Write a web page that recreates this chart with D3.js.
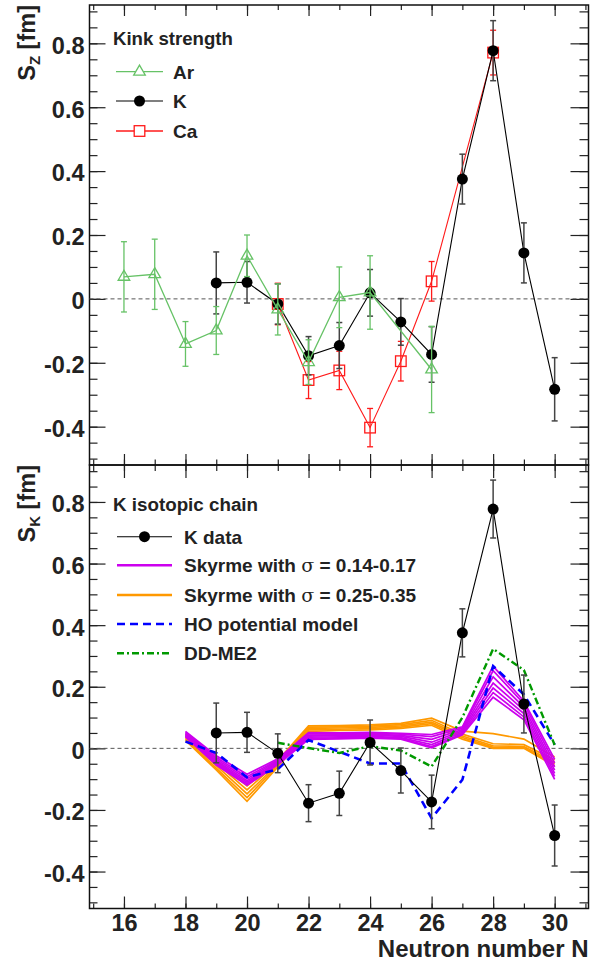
<!DOCTYPE html>
<html><head><meta charset="utf-8">
<script src="https://cdn.jsdelivr.net/npm/d3@7"></script>
<style>
body{margin:0;background:#fff}
text{font-family:"Liberation Sans",Arial,Helvetica,sans-serif;font-weight:bold;fill:#222}
</style>
</head><body>
<svg id="c" width="606" height="966"></svg>
<script>
// ---------- data ----------
const xTicks = [16,18,20,22,24,26,28,30];
const yTicks = [-0.4,-0.2,0,0.2,0.4,0.6,0.8];

const nK   = [19,20,21,22,23,24,25,26,27,28,29,30];
const kVal = [0.050,0.052,-0.016,-0.178,-0.146,0.019,-0.072,-0.174,0.375,0.777,0.144,-0.283];
const kErr = [0.097,0.065,0.063,0.060,0.072,0.073,0.073,0.087,0.078,0.094,0.094,0.099];

const nAr   = [16,17,18,19,20,21,22,23,24,26];
const arVal = [0.069,0.077,-0.141,-0.099,0.135,-0.033,-0.198,0.005,0.020,-0.221];
const arErr = [0.110,0.110,0.070,0.075,0.065,0.080,0.070,0.095,0.115,0.135];

const nCa   = [21,22,23,24,25,26,28];
const caVal = [-0.016,-0.254,-0.224,-0.403,-0.195,0.055,0.771];
const caErr = [0.065,0.058,0.060,0.060,0.062,0.062,0.070];

const nTh = [18,19,20,21,22,23,24,25,26,27,28,29,30];
const skyrmeLow = [
 [0.055,-0.024,-0.084,-0.034,0.051,0.050,0.052,0.049,0.045,0.070,0.267,0.153,-0.036],
 [0.052,-0.030,-0.092,-0.038,0.047,0.047,0.049,0.046,0.038,0.066,0.252,0.145,-0.048],
 [0.049,-0.035,-0.099,-0.041,0.043,0.044,0.046,0.042,0.029,0.061,0.232,0.134,-0.060],
 [0.046,-0.040,-0.105,-0.045,0.040,0.041,0.043,0.039,0.020,0.057,0.212,0.124,-0.071],
 [0.043,-0.045,-0.110,-0.048,0.036,0.037,0.039,0.035,0.012,0.052,0.196,0.113,-0.081],
 [0.040,-0.050,-0.115,-0.050,0.032,0.034,0.036,0.032,0.006,0.047,0.181,0.102,-0.091],
 [0.037,-0.054,-0.120,-0.053,0.029,0.031,0.033,0.030,0.002,0.044,0.166,0.093,-0.101]
];
const skyrmeHigh = [
 [0.045,-0.040,-0.122,-0.040,0.073,0.074,0.076,0.081,0.098,0.056,0.048,0.030,-0.028],
 [0.040,-0.048,-0.135,-0.045,0.069,0.070,0.072,0.077,0.091,0.046,0.015,0.012,-0.038],
 [0.035,-0.056,-0.148,-0.050,0.065,0.066,0.068,0.073,0.085,0.040,0.008,0.006,-0.045],
 [0.030,-0.064,-0.160,-0.055,0.060,0.062,0.064,0.069,0.080,0.035,0.003,0.002,-0.051],
 [0.026,-0.070,-0.172,-0.060,0.055,0.058,0.060,0.065,0.075,0.030,0.000,0.000,-0.057]
];
const hoVal = [0.022,-0.015,-0.094,-0.068,0.027,-0.011,-0.049,-0.049,-0.227,-0.102,0.267,0.175,0.012];
const nDD   = [21,22,23,24,25,26,27,28,29,30];
const ddVal = [0.018,0.001,-0.015,0.007,-0.007,-0.059,0.100,0.323,0.254,0.011];

// ---------- layout ----------
const svg = d3.select("#c");
const L = 89.5, R = 588.5;
const x = d3.scaleLinear().domain([14.88, 31.1]).range([L, R]);
const yTop = d3.scaleLinear().domain([-0.52, 0.92]).range([465, 5]);
const yBot = d3.scaleLinear().domain([-0.52, 0.92]).range([908.5, 465]);

const C = {ar:"#66c266", k:"#000", ca:"#ff1a1a", kErr:"#444",
           low:"#cc00ee", high:"#ff9900", ho:"#0000ff", dd:"#009900"};

const fmt = d => d === 0 ? "0" : String(+d.toFixed(1));
const minorY = d3.range(-0.5, 0.9001, 0.05).map(v => +v.toFixed(2));
const minorX = d3.range(15, 31.01, 1);

function frame(y, top, bottom, opts) {
  const g = svg.append("g");
  const ga = g.append("g").attr("transform", `translate(${L},0)`);
  ga.call(d3.axisLeft(y).tickValues(minorY).tickSizeInner(-8).tickSizeOuter(0).tickFormat(""));
  const gal = ga.append("g").call(d3.axisLeft(y).tickValues(yTicks).tickSizeInner(-16).tickSizeOuter(0).tickPadding(5).tickFormat(fmt));
  const gr = g.append("g").attr("transform", `translate(${R},0)`);
  gr.call(d3.axisRight(y).tickValues(minorY).tickSizeInner(-9).tickSizeOuter(0).tickFormat(""));
  gr.append("g").call(d3.axisRight(y).tickValues(yTicks).tickSizeInner(-18).tickSizeOuter(0).tickFormat(""));
  const gt = g.append("g").attr("transform", `translate(0,${top})`);
  gt.call(d3.axisTop(x).tickValues(minorX).tickSizeInner(-opts.tMin).tickSizeOuter(0).tickFormat(""));
  gt.append("g").call(d3.axisTop(x).tickValues(xTicks).tickSizeInner(-opts.tMaj).tickSizeOuter(0).tickFormat(""));
  const gb = g.append("g").attr("transform", `translate(0,${bottom})`);
  gb.call(d3.axisBottom(x).tickValues(minorX).tickSizeInner(-opts.bMin).tickSizeOuter(0).tickFormat(""));
  gb.append("g").call(d3.axisBottom(x).tickValues(xTicks).tickSizeInner(-opts.bMaj).tickSizeOuter(0).tickPadding(6)
      .tickFormat(opts.xLabels ? d => String(d) : ""));
  g.selectAll(".domain").remove();
  g.selectAll(".tick line").attr("stroke", "#222").attr("stroke-width", 1.2);
  g.selectAll(".tick text").style("font-size", "23.5px").style("fill", "#222")
   .style("font-family", '"Liberation Sans",Arial,sans-serif').style("font-weight", "bold");
  ga.selectAll(".tick text").attr("dy", "0.42em");
  gb.selectAll(".tick text").attr("dy", "0.72em");
  g.append("rect").attr("x", L).attr("y", top).attr("width", R - L).attr("height", bottom - top)
   .attr("fill", "none").attr("stroke", "#111").attr("stroke-width", 1.5);
  g.append("line").attr("x1", L).attr("x2", R).attr("y1", y(0)).attr("y2", y(0))
   .attr("stroke", "#555").attr("stroke-width", 1).attr("stroke-dasharray", "4,3");
  return g;
}

function errBars(g, ns, vs, es, y, color, w) {
  const eg = g.append("g").attr("stroke", color).attr("stroke-width", w).attr("fill", "none");
  ns.forEach((n, i) => {
    const xx = x(n), y1 = y(vs[i] - es[i]), y2 = y(vs[i] + es[i]);
    eg.append("line").attr("x1", xx).attr("x2", xx).attr("y1", y1).attr("y2", y2);
    eg.append("line").attr("x1", xx - 3).attr("x2", xx + 3).attr("y1", y1).attr("y2", y1);
    eg.append("line").attr("x1", xx - 3).attr("x2", xx + 3).attr("y1", y2).attr("y2", y2);
  });
}
function polyline(g, ns, vs, y, color, w, dash) {
  const p = g.append("path").datum(ns.map((n, i) => [n, vs[i]]))
    .attr("d", d3.line().x(d => x(d[0])).y(d => y(d[1])))
    .attr("fill", "none").attr("stroke", color).attr("stroke-width", w)
    .attr("stroke-linejoin", "miter");
  if (dash) p.attr("stroke-dasharray", dash);
  return p;
}
const triPath = "M0,-6.6L5.8,3.4L-5.8,3.4Z";
function circles(g, ns, vs, y) {
  g.selectAll(null).data(ns.map((n, i) => [n, vs[i]])).enter().append("circle")
   .attr("cx", d => x(d[0])).attr("cy", d => y(d[1])).attr("r", 5.5).attr("fill", "#000");
}
function triangles(g, ns, vs, y) {
  g.selectAll(null).data(ns.map((n, i) => [n, vs[i]])).enter().append("path")
   .attr("d", triPath).attr("transform", d => `translate(${x(d[0])},${y(d[1])})`)
   .attr("fill", "none").attr("stroke", C.ar).attr("stroke-width", 1.3);
}
function squares(g, ns, vs, y) {
  g.selectAll(null).data(ns.map((n, i) => [n, vs[i]])).enter().append("rect")
   .attr("x", d => x(d[0]) - 5.3).attr("y", d => y(d[1]) - 5.3).attr("width", 10.6).attr("height", 10.6)
   .attr("fill", "none").attr("stroke", C.ca).attr("stroke-width", 1.3);
}

// ---------- top panel ----------
frame(yTop, 5, 465, {tMaj:11, tMin:5, bMaj:11, bMin:5.5, xLabels:false});
const pTop = svg.append("g");
polyline(pTop, nCa, caVal, yTop, C.ca, 1.1);
errBars(pTop, nCa, caVal, caErr, yTop, C.ca, 1.3);
squares(pTop, nCa, caVal, yTop);
polyline(pTop, nK, kVal, yTop, C.k, 1.1);
errBars(pTop, nK, kVal, kErr, yTop, C.kErr, 1.5);
circles(pTop, nK, kVal, yTop);
polyline(pTop, nAr, arVal, yTop, C.ar, 1.3);
errBars(pTop, nAr, arVal, arErr, yTop, C.ar, 1.3);
triangles(pTop, nAr, arVal, yTop);

// ---------- bottom panel ----------
frame(yBot, 465, 908.5, {tMaj:13, tMin:6, bMaj:12, bMin:5, xLabels:true});
const pBot = svg.append("g");
skyrmeHigh.forEach(s => polyline(pBot, nTh, s, yBot, C.high, 1.7));
skyrmeLow.forEach(s => polyline(pBot, nTh, s, yBot, C.low, 1.7));
polyline(pBot, nTh, hoVal, yBot, C.ho, 2.6, "8,5");
polyline(pBot, nDD, ddVal, yBot, C.dd, 2.4, "7,3,2,3");
polyline(pBot, nK, kVal, yBot, C.k, 1.1);
errBars(pBot, nK, kVal, kErr, yBot, C.kErr, 1.5);
circles(pBot, nK, kVal, yBot);

// ---------- axis titles ----------
function yTitle(sub, yEnd) {
  const t = svg.append("text").attr("transform", `translate(35,${yEnd}) rotate(-90)`)
    .attr("text-anchor", "end").style("font-size", "23.5px");
  t.append("tspan").text("S");
  t.append("tspan").text(sub).style("font-size", "15px").attr("dy", 5);
  t.append("tspan").text(" [fm]").attr("dy", -5);
}
yTitle("Z", 5);
yTitle("K", 465);
svg.append("text").attr("x", R).attr("y", 957).attr("text-anchor", "end")
   .style("font-size", "24px").text("Neutron number N");

// ---------- legends ----------
function legText(xx, yy, parts, size) {
  const t = svg.append("text").attr("x", xx).attr("y", yy).style("font-size", size + "px");
  parts.forEach(p => {
    const s = t.append("tspan").text(p.t);
    if (p.sigma) s.style("font-family", '"DejaVu Serif","Liberation Serif",serif').style("font-weight", "normal");
  });
}
legText(113, 44.5, [{t:"Kink strength"}], 18.6);
const lt = svg.append("g");
[[71.7, C.ar, "Ar", "tri"], [101, C.k, "K", "circ"], [131, C.ca, "Ca", "sq"]].forEach(([yy, col, lab, m]) => {
  lt.append("line").attr("x1", 116).attr("x2", 163).attr("y1", yy).attr("y2", yy)
    .attr("stroke", col).attr("stroke-width", m === "circ" ? 1.1 : 1.3);
  if (m === "tri") lt.append("path").attr("d", triPath).attr("transform", `translate(139.5,${yy})`)
    .attr("fill", "#fff").attr("stroke", col).attr("stroke-width", 1.3);
  if (m === "circ") lt.append("circle").attr("cx", 139.5).attr("cy", yy).attr("r", 5.5).attr("fill", "#000");
  if (m === "sq") lt.append("rect").attr("x", 134.2).attr("y", yy - 5.3).attr("width", 10.6).attr("height", 10.6)
    .attr("fill", "#fff").attr("stroke", col).attr("stroke-width", 1.3);
  legText(173, yy + 7, [{t:lab}], 19);
});
legText(113, 510.5, [{t:"K isotopic chain"}], 18.8);
const lb = svg.append("g");
lb.append("line").attr("x1", 117).attr("x2", 172).attr("y1", 536.7).attr("y2", 536.7).attr("stroke", "#000").attr("stroke-width", 1.1);
lb.append("circle").attr("cx", 144.5).attr("cy", 536.7).attr("r", 5.5).attr("fill", "#000");
legText(184, 543.5, [{t:"K data"}], 19);
const bEntries = [
  [565.3, C.low, 2.4, null, [{t:"Skyrme with "},{t:"σ",sigma:true},{t:" = 0.14-0.17"}]],
  [595,   C.high, 2.4, null, [{t:"Skyrme with "},{t:"σ",sigma:true},{t:" = 0.25-0.35"}]],
  [624,   C.ho, 2.6, "8,5", [{t:"HO potential model"}]],
  [653.3, C.dd, 2.4, "7,3,2,3", [{t:"DD-ME2"}]]
];
bEntries.forEach(([yy, col, w, dash, parts]) => {
  const l = lb.append("line").attr("x1", 117).attr("x2", 172).attr("y1", yy).attr("y2", yy)
    .attr("stroke", col).attr("stroke-width", w);
  if (dash) l.attr("stroke-dasharray", dash);
  legText(184, yy + 7, parts, 19);
});
</script>
</body></html>
